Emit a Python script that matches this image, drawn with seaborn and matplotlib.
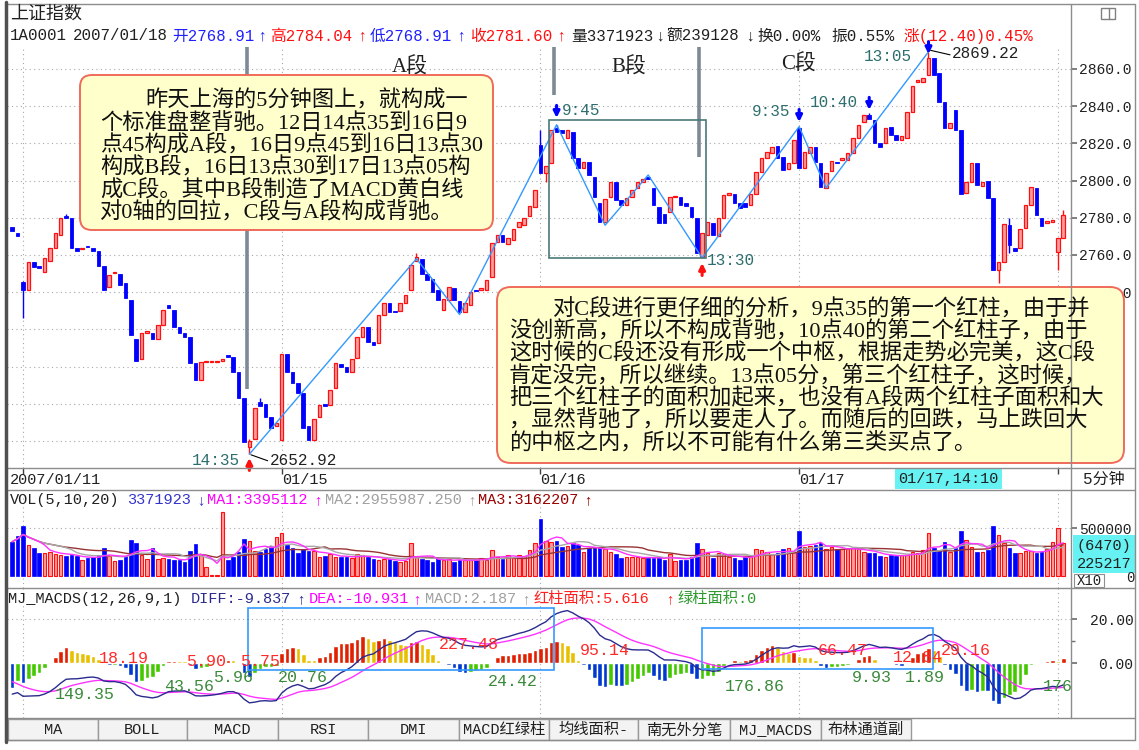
import numpy as np
import pandas as pd
import matplotlib
matplotlib.use("Agg")
import matplotlib.pyplot as plt
import seaborn as sns
from matplotlib.patches import Rectangle, FancyBboxPatch

# ---- data (上证指数 2007/01/11 .. 01/18) ----
day_labels = ["2007/01/11", "01/15", "01/16", "01/17"]
day_label_bars = [-0.4, 50, 98, 146]
day_starts = [2, 50, 98, 146, 194]

opens = [
    2775, 2772,
    # 01/12
    2745.5, 2741, 2756, 2754, 2751, 2757, 2764, 2771, 2781, 2780, 2764, 2763,
    2765, 2764, 2762, 2754, 2743, 2750.5, 2750, 2745, 2736, 2715, 2704, 2718,
    2718, 2715, 2722.5, 2733, 2730.5, 2721.5, 2718, 2716, 2702, 2693, 2702.5, 2702.5,
    2702.5, 2703, 2706, 2705, 2697, 2683, 2657, 2661, 2681, 2680, 2673, 2668,
    # 01/15
    2660.5, 2707, 2697, 2691, 2686, 2668, 2660.5, 2673, 2680, 2679.5, 2688.5, 2701.5,
    2700, 2697, 2704.5, 2716, 2721.5, 2713, 2712.5, 2728, 2734, 2730, 2730, 2734,
    2741, 2757, 2758, 2750, 2747, 2741, 2730.5, 2736, 2742.5, 2735, 2729.5, 2733,
    2741, 2741, 2741, 2748, 2767, 2771, 2766, 2768, 2775, 2776, 2781, 2786,
    # 01/16
    2819, 2804, 2809.5, 2828, 2827, 2823, 2826, 2812, 2807, 2810, 2802, 2788,
    2778, 2791, 2799, 2789.5, 2787, 2791, 2796, 2799, 2802, 2796, 2786, 2782,
    2783, 2791, 2791, 2788, 2786, 2780, 2759, 2771, 2777, 2770, 2780, 2792,
    2793, 2788, 2788, 2787, 2793, 2804.5, 2812, 2815, 2818.5, 2812.5, 2806, 2809.5,
    # 01/17
    2828, 2807, 2815, 2818, 2809.5, 2796, 2805, 2810, 2811, 2811, 2815, 2823,
    2831.5, 2835, 2832.5, 2820, 2820, 2829, 2824.5, 2822, 2823, 2837, 2853, 2853,
    2857, 2866, 2858, 2842, 2828, 2838, 2827, 2793.5, 2799, 2809.5, 2797, 2800,
    2790.5, 2752, 2756, 2776, 2764, 2763.5, 2774.5, 2787, 2796, 2780, 2777, 2778,
    # 01/18
    2761.5, 2768.91,
]
closes = [
    2773, 2770,
    2741, 2756, 2753.5, 2753, 2758.5, 2764, 2772, 2780, 2780, 2764, 2762, 2764,
    2764.5, 2762, 2754, 2741, 2749, 2751, 2744, 2737, 2717, 2703, 2718, 2719,
    2715, 2722.5, 2730.5, 2731.5, 2721.5, 2718, 2716, 2702, 2693, 2702.5, 2703, 2702.5,
    2702.5, 2704, 2705, 2697, 2683, 2659.5, 2660, 2678, 2679, 2673, 2667, 2669.5,
    2707, 2697, 2691, 2686, 2667, 2660.5, 2672, 2679.5, 2679, 2687.5, 2702, 2700,
    2697, 2704, 2716, 2721.5, 2713, 2711.5, 2727.5, 2734, 2729.5, 2729.6, 2734, 2738.5,
    2754.5, 2759, 2750, 2746.5, 2740, 2736, 2736.5, 2743, 2736, 2729.5, 2734, 2740,
    2740.6, 2742, 2746.5, 2766.5, 2771, 2767, 2769, 2774, 2778, 2780, 2786.5, 2795,
    2804, 2808, 2827, 2826, 2825.5, 2827, 2812, 2807, 2810, 2803, 2791, 2778,
    2790, 2799, 2789.5, 2787, 2790.5, 2795, 2799, 2801, 2801, 2787, 2777, 2777,
    2791, 2791.5, 2787, 2786.5, 2780.5, 2761, 2772, 2778, 2771, 2780, 2792, 2793.5,
    2788, 2785, 2786, 2793, 2804.5, 2812, 2815.5, 2818, 2812, 2805.5, 2809.5, 2822,
    2807, 2815.5, 2818, 2810, 2796.5, 2804, 2810.5, 2809.6, 2812, 2815, 2823, 2830,
    2835, 2833, 2820, 2818, 2828, 2824.5, 2822, 2824, 2837, 2851, 2854, 2855,
    2866, 2857, 2842, 2828, 2831, 2827, 2793, 2799.5, 2809.5, 2797.5, 2799, 2790.5,
    2752, 2756, 2776.5, 2765.5, 2762, 2774, 2787, 2796.5, 2781.5, 2775.5, 2778.5, 2779,
    2769, 2781.60,
]
wick_high = {2: 2746, 10: 2782, 44: 2661, 46: 2683, 75: 2761, 98: 2827, 101: 2830,
             146: 2829, 159: 2836.5, 170: 2869.22, 185: 2780, 195: 2784.04}
wick_low = {2: 2726, 44: 2652.92, 99: 2799, 128: 2758.4, 183: 2745, 185: 2761, 194: 2752}

volumes_k = [
    360, 420, 525, 325, 290, 245, 245, 255, 230, 220,
    210, 220, 210, 168, 185, 196, 220, 290, 210, 160,
    168, 210, 378, 350, 220, 175, 290, 175, 185, 175,
    168, 168, 150, 266, 332, 220, 91, 10, 10, 675,
    168, 196, 255, 390, 370, 266, 255, 280, 315, 406,
    448, 325, 290, 238, 280, 266, 266, 203, 210, 231,
    203, 196, 196, 185, 231, 220, 196, 175, 168, 175,
    175, 158, 150, 158, 343, 203, 178, 168, 150, 185,
    168, 175, 150, 168, 168, 168, 175, 185, 168, 273,
    203, 175, 220, 185, 220, 210, 273, 350, 595, 370,
    360, 367, 300, 315, 350, 325, 255, 290, 290, 300,
    280, 255, 231, 185, 196, 203, 203, 185, 185, 185,
    196, 168, 231, 161, 168, 168, 203, 343, 280, 238,
    185, 238, 231, 203, 185, 168, 203, 210, 280, 273,
    255, 231, 238, 280, 290, 255, 472, 308, 315, 325,
    350, 280, 300, 280, 280, 280, 290, 280, 255, 238,
    238, 210, 203, 220, 210, 220, 220, 255, 238, 273,
    455, 290, 273, 360, 255, 290, 472, 378, 300, 255,
    255, 273, 525, 430, 350, 290, 238, 245, 266, 266,
    238, 255, 280, 360, 500, 343,
]

price_ticks = [2660, 2680, 2700, 2720, 2740, 2760, 2780, 2800, 2820, 2840, 2860]
price_labelled = [2740, 2760, 2780, 2800, 2820, 2840, 2860]   # the rest sit under the note

# segment zigzag (A / B / C 段)
zz_bars = [44, 75, 83, 101, 110, 118, 128, 146, 151, 170]
zz_prices = [2652.92, 2758, 2728, 2830, 2776, 2803, 2758.4, 2829, 2796, 2869.22]

# MACD column-area labels
area_text = ["149.35", "18.19", "43.56", "5.90", "5.96", "5.75", "20.76", "227.48", "24.42",
             "95.14", "176.86", "66.47", "9.93", "12.84", "1.89", "29.16", "176.52"]
area_bar = [13.5, 20.7, 32.8, 36.0, 41.0, 46.0, 54.0, 84.8, 92.9,
            110.0, 137.8, 154.1, 159.5, 168.0, 169.3, 176.9, 191.3]
area_val = [-14.1, 2.0, -10.6, 0.7, -6.7, 0.7, -6.7, 8.3, -8.4,
            5.6, -10.6, 6.0, -6.7, 2.4, -6.4, 5.6, -10.6]
area_red = [False, True, False, True, False, True, False, True, False,
            True, False, True, False, True, False, True, False]

ema12_seed, ema26_seed, dea_seed = 2775.0, 2790.0, -7.0

box1_lines = ["昨天上海的5分钟图上，就构成一",
              "个标准盘整背驰。12日14点35到16日9",
              "点45构成A段，16日9点45到16日13点30",
              "构成B段，16日13点30到17日13点05构",
              "成C段。其中B段制造了MACD黄白线",
              "对0轴的回拉，C段与A段构成背驰。"]
box2_lines = ["对C段进行更仔细的分析，9点35的第一个红柱，由于并",
              "没创新高，所以不构成背驰，10点40的第二个红柱子，由于",
              "这时候的C段还没有形成一个中枢，根据走势必完美，这C段",
              "肯定没完，所以继续。13点05分，第三个红柱子，这时候，",
              "把三个红柱子的面积加起来，也没有A段两个红柱子面积和大",
              "，显然背驰了，所以要走人了。而随后的回跌，马上跌回大",
              "的中枢之内，所以不可能有什么第三类买点了。"]

tab_names = ["MA", "BOLL", "MACD", "RSI", "DMI", "MACD红绿柱", "均线面积-", "南无外分笔",
             "MJ_MACDS", "布林通道副"]

# ---------------------------------------------------------------
sns.set_theme(style="white")
MONO = ["Liberation Mono", "DejaVu Sans Mono", "Noto Sans CJK SC"]
SERIF = ["Liberation Serif", "Noto Sans CJK SC"]
plt.rcParams["font.family"] = MONO
plt.rcParams["axes.unicode_minus"] = False

W, H = 1139, 750
RED, PINK, BLUE = "#ff1010", "#ff9c9c", "#0000ff"
TEAL = "#2e6e6e"
GRID = dict(color="#a8a8a8", ls=(0, (1, 3)), lw=0.8, zorder=0)
TICKS = dict(axis="y", length=4.5, color="#707070", labelsize=10.5, pad=1.5,
             direction="out", labelcolor="#202020")

o = np.array(opens, float)
c = np.array(closes, float)
n = len(c)
x = np.arange(n)
up = c >= o
vol = np.array(volumes_k, float) * 1000
XLIM = (-0.965, 196.44)


def rect(x0, y0, x1, y1):
    return [x0 / W, 1 - y1 / H, (x1 - x0) / W, (y1 - y0) / H]


fig = plt.figure(figsize=(W / 100, H / 100), dpi=100)
fig.patch.set_facecolor("white")

# ---------------- price panel ----------------
ax_p = fig.add_axes(rect(7, 47, 1071, 468))
ax_p.set_xlim(*XLIM)
ax_p.set_ylim(2645.5, 2871.8)
for t in price_ticks:
    ax_p.axhline(t, **GRID)
for d in day_starts:
    ax_p.axvline(d, **GRID)

lo = np.minimum(o, c)
hgt = np.maximum(np.abs(c - o), 0.45)
for i, hi in wick_high.items():
    ax_p.vlines(i, max(o[i], c[i]), hi, color=RED if up[i] else BLUE, lw=1, zorder=2)
for i, lw_ in wick_low.items():
    ax_p.vlines(i, lw_, min(o[i], c[i]), color=RED if up[i] else BLUE, lw=1, zorder=2)
ax_p.bar(x[up], hgt[up], bottom=lo[up], width=0.66, color=PINK, edgecolor=RED, linewidth=0.9, zorder=3)
ax_p.bar(x[~up], hgt[~up], bottom=lo[~up], width=0.66, color=BLUE, edgecolor=BLUE, linewidth=0.6, zorder=3)

sns.lineplot(x=zz_bars, y=zz_prices, ax=ax_p, color="#3399ff", lw=1, zorder=4, errorbar=None)

# segment markers
ax_p.vlines([43.6], 2688, 2871.8, color="#7d8a96", lw=2.6, zorder=5)
ax_p.vlines([100.5], 2846, 2871.8, color="#7d8a96", lw=2.6, zorder=5)
ax_p.vlines([127.4], 2812.5, 2871.8, color="#7d8a96", lw=2.6, zorder=5)
for lbl, bx, py in [("A段", 73.8, 2861), ("B段", 114.3, 2861), ("C段", 145.8, 2862.6)]:
    ax_p.text(bx, py, lbl, ha="center", va="center", fontsize=15, family=SERIF, color="#202020", zorder=6)
ax_p.add_patch(Rectangle((99.6, 2758.4), 29.1, 74.2, fill=False, ec="#4a7878", lw=1.2, zorder=5))

arrows = [(44, 2650.9, -1, RED), (101, 2833.7, 1, BLUE), (128, 2755.7, -1, RED),
          (146, 2831.5, 1, BLUE), (159, 2838.0, 1, BLUE), (170, 2868.0, 1, BLUE)]
for bx, tip, dirn, col in arrows:
    ax_p.annotate("", xy=(bx, tip), xytext=(0, 9 * dirn), textcoords="offset points",
                  arrowprops=dict(arrowstyle="-|>", color=col, lw=2.2, mutation_scale=9,
                                  shrinkA=0, shrinkB=0), annotation_clip=False, zorder=7)
time_lbls = [("14:35", 42.3, 2649.8, "right"), ("9:45", 102.0, 2837.4, "left"),
             ("13:30", 128.9, 2756.8, "left"), ("9:35", 144.3, 2836.9, "right"),
             ("10:40", 156.9, 2841.7, "right"), ("13:05", 166.9, 2866.5, "right")]
for s, bx, py, ha in time_lbls:
    ax_p.text(bx, py, s, ha=ha, va="center", fontsize=11.5, color=TEAL, zorder=7)
ax_p.plot([44.3, 47.4], [2652.6, 2649.4], color="black", lw=0.8, zorder=7)
ax_p.text(47.8, 2649.8, "2652.92", ha="left", va="center", fontsize=11.5, color="#202020", zorder=7)
ax_p.plot([170.4, 174.0], [2870.0, 2867.6], color="black", lw=0.8, zorder=7)
ax_p.text(174.4, 2868.4, "2869.22", ha="left", va="center", fontsize=11.5, color="#202020", zorder=7)

ax_p.yaxis.tick_right()
ax_p.set_yticks(price_ticks)
ax_p.set_yticklabels([f"{t:.1f}" if t in price_labelled else "" for t in price_ticks])
ax_p.set_xticks([])
ax_p.tick_params(**TICKS)
for s in ax_p.spines.values():
    s.set_visible(False)

# ---------------- date row ----------------
ax_d = fig.add_axes(rect(7, 468, 1071, 490))
ax_d.set_xlim(*XLIM)
ax_d.set_ylim(0, 1)
ax_d.axis("off")
ax_d.vlines(day_starts, 0.72, 1.0, color="#404040", lw=1)
for lbl, bx in zip(day_labels, day_label_bars):
    ax_d.text(bx, 0.45, lbl, ha="left", va="center", fontsize=11, color="#202020")
ax_d.text(183, 0.5, "01/17,14:10", ha="right", va="center", fontsize=11, color="#202020",
          bbox=dict(fc="#66f2f2", ec="none", pad=2.2))

# ---------------- volume panel ----------------
ax_v = fig.add_axes(rect(7, 490, 1071, 588))
ax_v.set_xlim(*XLIM)
ax_v.set_ylim(-125800, 901500)
ax_v.axhline(500000, **GRID)
for d in day_starts:
    ax_v.axvline(d, **GRID)
ax_v.bar(x[up], vol[up], width=0.66, color=PINK, edgecolor=RED, linewidth=0.8, zorder=2)
ax_v.bar(x[~up], vol[~up], width=0.66, color=BLUE, edgecolor=BLUE, linewidth=0.5, zorder=2)
vs = pd.Series(vol)
for win, col in [(20, "#993333"), (10, "#a8a8a8"), (5, "#ff33ff")]:
    sns.lineplot(x=x, y=vs.rolling(win, min_periods=1).mean().to_numpy(), ax=ax_v,
                 color=col, lw=1, zorder=3, errorbar=None)
ax_v.yaxis.tick_right()
ax_v.set_yticks([500000])
ax_v.set_yticklabels(["500000"])
ax_v.set_xticks([])
ax_v.set_ylabel("")
ax_v.tick_params(**TICKS)
for s in ax_v.spines.values():
    s.set_visible(False)

# ---------------- MJ_MACDS panel ----------------
cs = pd.Series(c)
ema12 = pd.concat([pd.Series([ema12_seed]), cs]).ewm(span=12, adjust=False).mean().iloc[1:].to_numpy()
ema26 = pd.concat([pd.Series([ema26_seed]), cs]).ewm(span=26, adjust=False).mean().iloc[1:].to_numpy()
diff = ema12 - ema26
dea = pd.concat([pd.Series([dea_seed]), pd.Series(diff)]).ewm(span=9, adjust=False).mean().iloc[1:].to_numpy()
macd = 2 * (diff - dea)
prev = np.r_[macd[0], macd[:-1]]
bar_cols = np.where(macd >= 0, np.where(macd >= prev, "#e02000", "#e8c000"),
                    np.where(macd <= prev, "#0038d0", "#44c800"))

ax_m = fig.add_axes(rect(7, 588, 1071, 718))
ax_m.set_xlim(*XLIM)
ax_m.set_ylim(-24.9, 34.2)
ax_m.axhline(20, **GRID)
for d in day_starts:
    ax_m.axvline(d, **GRID)
ax_m.bar(x, macd, width=0.85, color=bar_cols, zorder=2)
sns.lineplot(x=x, y=dea, ax=ax_m, color="#ff33ff", lw=1, zorder=3, errorbar=None)
sns.lineplot(x=x, y=diff, ax=ax_m, color="#2b2b8f", lw=1, zorder=3, errorbar=None)
ax_m.add_patch(Rectangle((43.7, -3.0), 56.9, 28.0, fill=False, ec="#3399ff", lw=1.2, zorder=4))
ax_m.add_patch(Rectangle((128.0, -2.6), 42.8, 18.8, fill=False, ec="#3399ff", lw=1.2, zorder=4))
for s, bx, v, red in zip(area_text, area_bar, area_val, area_red):
    ax_m.text(bx, v, s, ha="left" if bx > 190 else "center", va="center", fontsize=12,
              color="#ff2a2a" if red else "#3a8a3a", zorder=5, clip_on=True)
ax_m.yaxis.tick_right()
ax_m.set_yticks([0, 20])
ax_m.set_yticklabels(["0.00", "20.00"])
ax_m.set_yticks([10], minor=True)
ax_m.set_xticks([])
ax_m.set_ylabel("")
ax_m.tick_params(**{**TICKS, "pad": 40.5})
ax_m.tick_params(axis="y", which="minor", length=3, color="#707070", direction="out")
for lab in ax_m.get_yticklabels():
    lab.set_ha("right")
for s in ax_m.spines.values():
    s.set_visible(False)

# ---------------- overlay: frame, titles, notes ----------------
ov = fig.add_axes([0, 0, 1, 1], zorder=10)
ov.set_xlim(0, W)
ov.set_ylim(H, 0)
ov.axis("off")

fr = dict(color="#8c8c8c", lw=1)
ov.plot([7, 1135], [4, 4], **fr)
ov.plot([1135, 1135], [4, 740], **fr)
ov.plot([1071, 1071], [4, 718], **fr)
for yy in (468, 490, 588, 718, 740):
    ov.plot([7, 1135], [yy, yy], **fr)
ov.plot([6, 6], [2, 742], color="#505050", lw=2.5)
ov.add_patch(Rectangle((1101, 8), 14, 11, fill=False, ec="#808080", lw=1))
ov.plot([1109, 1109], [8, 19], color="#808080", lw=1)

ov.text(10, 14, "上证指数", fontsize=13, va="center", color="#202020")
hdr = [(10, "1A0001", "#202020"), (73, "2007/01/18", "#202020"), (172, "开2768.91", "#2020ff"),
       (257, "↑", "#2020ff"), (270, "高2784.04", RED), (357, "↑", RED),
       (370, "低2768.91", "#2020ff"), (456, "↑", "#2020ff"), (470, "收2781.60", RED),
       (556, "↑", RED), (571, "量3371923", "#202020"), (655, "↓", "#202020"),
       (666, "额239128", "#202020"), (745, "↓", "#202020"), (757, "换0.00%", "#202020"),
       (831, "振0.55%", "#202020"), (903, "涨(12.40)0.45%", RED)]
for hx, s, col in hdr:
    ov.text(hx, 36, s, fontsize=11.3, va="center", color=col)

vol_hdr = [(10, "VOL(5,10,20)", "#202020"), (127, "3371923", "#3333cc"), (196, "↓", "#3333cc"),
           (207, "MA1:3395112", "#ff00ff"), (313, "↑", "#ff00ff"),
           (325, "MA2:2955987.250", "#a0a0a0"), (467, "↑", "#a0a0a0"),
           (478, "MA3:3162207", "#990000"), (583, "↑", "#990000")]
for hx, s, col in vol_hdr:
    ov.text(hx, 500, s, fontsize=11, va="center", color=col)

macd_hdr = [(8, "MJ_MACDS(12,26,9,1)", "#202020"), (191, "DIFF:-9.837", "#2b2b8f"), (296, "↑", "#2b2b8f"),
            (309, "DEA:-10.931", "#ff00ff"), (412, "↑", "#ff00ff"), (425, "MACD:2.187", "#a0a0a0"),
            (521, "↑", "#a0a0a0"), (533, "红柱面积:5.616", "#ff2020"), (665, "↑", "#ff2020"),
            (677, "绿柱面积:0", "#2e9a2e")]
for hx, s, col in macd_hdr:
    ov.text(hx, 599, s, fontsize=11, va="center", color=col)

ov.text(1104, 479, "5分钟", fontsize=11.5, ha="center", va="center", color="#202020")
ov.add_patch(Rectangle((1073, 535), 62, 38, fc="#66f2f2", ec="none"))
ov.text(1104, 546, "(6470)", fontsize=11, ha="center", va="center", color="#202020")
ov.text(1104, 564, "225217", fontsize=11, ha="center", va="center", color="#202020")
ov.add_patch(Rectangle((1074, 574), 30, 13, fill=False, ec="#909090", lw=0.8))
ov.text(1089, 581, "X10", fontsize=10, ha="center", va="center", color="#202020")
ov.text(1130, 578, "0", fontsize=10, ha="center", va="center", color="#202020")

# tabs
edges = [8, 97.5, 187, 278, 368, 459, 549, 638, 730, 821, 911]
for k, name in enumerate(tab_names):
    ov.add_patch(Rectangle((edges[k], 719), edges[k + 1] - edges[k], 21, fc="#f3f3f3", ec="#9a9a9a", lw=1))
    ov.text((edges[k] + edges[k + 1]) / 2, 730, name, fontsize=11, ha="center", va="center", color="#202020")

# notes
ov.add_patch(FancyBboxPatch((80, 75), 413, 155, boxstyle="round,pad=0,rounding_size=12",
                            fc="#ffffcc", ec="#ef6a5a", lw=1.4))
for k, line in enumerate(box1_lines):
    ov.text(145 if k == 0 else 100, 101 + k * 22.4, line, fontsize=16, family=SERIF,
            va="center", color="#101010")
ov.add_patch(FancyBboxPatch((497, 287), 627, 176, boxstyle="round,pad=0,rounding_size=14",
                            fc="#ffffcc", ec="#ef6a5a", lw=1.4))
for k, line in enumerate(box2_lines):
    ov.text(553 if k == 0 else 509, 309 + k * 22.3, line, fontsize=16, family=SERIF,
            va="center", color="#101010")

fig.savefig("out.png", dpi=100, facecolor="white")
